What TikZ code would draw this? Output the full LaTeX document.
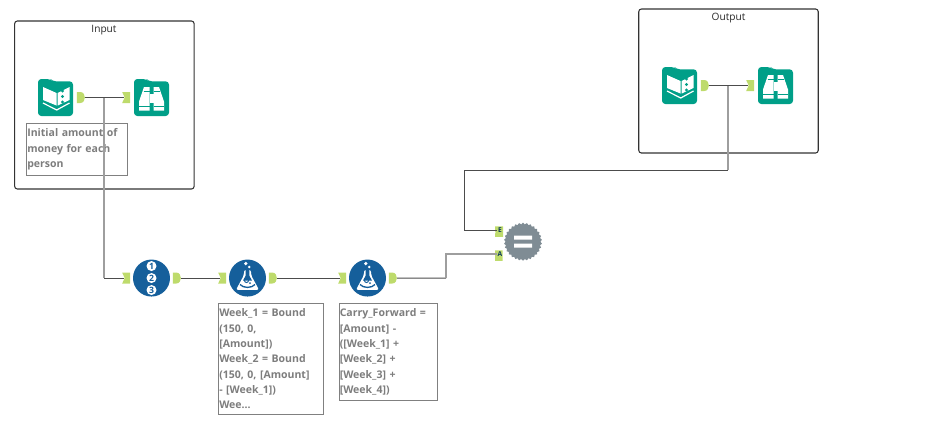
\documentclass[tikz,border=0pt]{standalone}
\usepackage{fontspec}
\setmainfont{Open Sans}
\usepackage{tikz}
\usetikzlibrary{shapes.geometric, positioning}

\definecolor{toolteal}{HTML}{009F88}
\definecolor{toolblue}{HTML}{155F9B}
\definecolor{toolgrey}{HTML}{7F8C94}
\definecolor{portgreen}{HTML}{BEDB6C}
\definecolor{notegrey}{HTML}{7D7D7D}

% icons are drawn in pixels around the centre of the node
\newcommand{\foldershape}{\fill [toolteal, rounded corners=2.5] (-17.5,18.5) -- (-17.5,-18.5) -- (-5,-18.5) -- (-3,-16.2) -- (17.5,-16.2) -- (17.5,18.5) -- cycle;}

\tikzstyle{container} = [rectangle, draw=black!80, rounded corners=2pt, line width=0.8pt, minimum width=134.6pt, inner sep=0pt]
\tikzstyle{title} = [text=black!85, font=\fontsize{7.6pt}{9pt}\selectfont, inner sep=0pt]
\tikzstyle{note} = [rectangle, draw=black!50, line width=0.7pt, anchor=north west, align=left, text=notegrey, inner xsep=0.6pt, inner ysep=3.9pt, font=\fontsize{7.9pt}{11.5pt}\selectfont\bfseries]
\tikzstyle{book} = [rectangle, minimum width=26.25pt, minimum height=27.75pt, inner sep=0pt, path picture={
    \begin{scope}[shift={(path picture bounding box.center)}]
    \foldershape
    \fill [white] (1,-4.5) -- (-12.5,-10.5) -- (-12.5,2.5) -- (1,8) -- cycle;
    \fill [white] (2.2,-4.5) -- (14,-10.5) -- (14,2.5) -- (2.2,8) -- cycle;
    \draw [white, line width=0.9pt] (-12.5,5.5) -- (1.2,12.5) -- (14,5.5);
    \fill [toolteal] (7,-6.5) circle (1.6) (7,-1) circle (1.6) (7,4.5) circle (1.6);
    \end{scope}}]
\tikzstyle{binoculars} = [rectangle, minimum width=26.25pt, minimum height=27.75pt, inner sep=0pt, path picture={
    \begin{scope}[shift={(path picture bounding box.center)}]
    \foldershape
    \fill [white] (-7.5,-10.5) -- (-2,-10.5) -- (-2,13) -- (-12.5,13) -- (-12.5,4) -- cycle;
    \fill [white] (7.5,-10.5) -- (2,-10.5) -- (2,13) -- (12.5,13) -- (12.5,4) -- cycle;
    \fill [white] (-2,-4) rectangle (2,5);
    \draw [toolteal, line width=0.5pt] (-12.5,9) -- (-2,9) (2,9) -- (12.5,9) (-8,-6) -- (-2,-6) (2,-6) -- (8,-6);
    \end{scope}}]
\tikzstyle{sample} = [circle, fill=toolblue, minimum size=27.75pt, inner sep=0pt]
\tikzstyle{number} = [circle, fill=white, text=toolblue, minimum size=7.5pt, inner sep=0pt, font=\fontsize{6.5pt}{7pt}\selectfont\bfseries]
\tikzstyle{formula} = [circle, fill=toolblue, minimum size=27.75pt, inner sep=0pt, path picture={
    \begin{scope}[shift={(path picture bounding box.center)}]
    \fill [white] (-1.7,-14.5) circle (1.8) (1.8,-11) circle (1.4);
    \fill [white, rounded corners=1.5] (-3.5,-8) -- (3.5,-8) -- (3.5,-3) -- (11.5,11.8) -- (-11.5,11.8) -- (-3.5,-3) -- cycle;
    \fill [toolblue] (-1.8,-8) -- (1.8,-8) -- (1.8,-2.5) -- (4.5,2.5) -- (-4.5,2.5) -- (-1.8,-2.5) -- cycle;
    \draw [toolblue, line width=0.7pt] (-1,2.5) circle (2);
    \fill [toolblue] (2.5,5.2) circle (1);
    \draw [toolblue, line width=1pt] (-7.5,6.5) .. controls (-4,10.3) and (4,10.3) .. (7.5,6.5);
    \end{scope}}]
\tikzstyle{union} = [star, star points=30, star point ratio=1.09, fill=toolgrey, minimum size=28.5pt, inner sep=0pt, path picture={
    \begin{scope}[shift={(path picture bounding box.center)}]
    \fill [white] (-9,-6) rectangle (9,-2) (-9,2) rectangle (9,6);
    \end{scope}}]
\tikzstyle{outport} = [rectangle, minimum width=6pt, minimum height=8.25pt, inner sep=0pt, path picture={
    \fill [portgreen, shift={(path picture bounding box.center)}] (-4,-5.5) -- (-.5,-5.5) .. controls (3,-5.5) and (4,-2) .. (4,0) .. controls (4,2) and (3,5.5) .. (-.5,5.5) -- (-4,5.5) -- cycle;}]
\tikzstyle{inport} = [rectangle, minimum width=6pt, minimum height=8.25pt, inner sep=0pt, path picture={
    \fill [portgreen, shift={(path picture bounding box.center)}] (-4,-5.5) -- (4,-5.5) -- (4,5.5) -- (-4,5.5) -- (-1.5,0) -- cycle;}]
\tikzstyle{joinport} = [rectangle, minimum width=7.5pt, minimum height=9pt, inner sep=0pt, text=toolblue!60!black, font=\fontsize{5pt}{5.5pt}\selectfont\bfseries, path picture={
    \fill [portgreen, shift={(path picture bounding box.center)}] (-5,-6) -- (5,-6) -- (5,6) -- (-5,6) -- (-2.5,0) -- cycle;}]
\tikzstyle{wire} = [black!70, line width=0.75pt]
\tikzstyle{faint} = [black!38, line width=1.1pt]
\tikzstyle{toport} = [shorten >=-1.8pt]

\begin{document}
\begin{tikzpicture}[x=0.75pt, y=-0.75pt, node distance=72pt]
    \useasboundingbox (0,0) rectangle (935,437);

    % Containers
    \node (input_box) [container, minimum height=126pt] at (104.4,105) {};
    \node (input_title) [title] at (104,30.5) {Input};
    \node (output_box) [container, minimum height=108pt] at (728.5,81) {};
    \node (output_title) [title] at (728.5,18.5) {Output};

    % Input tools
    \node (input) [book] at (55.5,97.5) {};
    \node (browse) [binoculars, right of=input] {};
    \node (input_out) [outport, right of=input, node distance=19pt] {};
    \node (browse_in) [inport, left of=browse, node distance=19pt] {};
    \node (input_note) [note, text width=74.2pt] at (26,123) {Initial amount of\\money for each\\person};

    % Output tools
    \node (output) [book] at (679.5,85.5) {};
    \node (view) [binoculars, right of=output] {};
    \node (output_out) [outport, right of=output, node distance=19pt] {};
    \node (view_in) [inport, left of=view, node distance=19pt] {};

    % Formula row
    \node (record) [sample, below of=browse, yshift=-63.4pt] {};
    \node (record2) [number] at (record) {2};
    \node (record1) [number, above of=record2, node distance=9pt] {1};
    \node (record3) [number, below of=record2, node distance=9pt] {3};
    \node (record_in) [inport, left of=record, node distance=19pt] {};
    \node (record_out) [outport, right of=record, node distance=19pt] {};

    \node (weeks) [formula, right of=record] {};
    \node (weeks_in) [inport, left of=weeks, node distance=19pt] {};
    \node (weeks_out) [outport, right of=weeks, node distance=19pt] {};
    \node (weeks_note) [note, text width=77.9pt] at (218,303) {Week\_1 = Bound\\(150, 0,\\{[Amount])}\\Week\_2 = Bound\\(150, 0, [Amount]\\- [Week\_1])\\Wee...};

    \node (carry) [formula, right of=weeks, xshift=18pt] {};
    \node (carry_in) [inport, left of=carry, node distance=19pt] {};
    \node (carry_out) [outport, right of=carry, node distance=19pt] {};
    \node (carry_note) [note, text width=73pt] at (338.5,303) {Carry\_Forward =\\{[Amount] -}\\([Week\_1] +\\{[Week\_2] +}\\{[Week\_3] +}\\{[Week\_4])}};

    % Union
    \node (join) [union] at (523,241.7) {};
    \node (join_e) [joinport, left of=join, node distance=17.25pt, yshift=8.75pt] {E};
    \node (join_a) [joinport, left of=join, node distance=17.25pt, yshift=-9.25pt] {A};

    % Wire corners
    \coordinate (input_branch) at (104,98);
    \coordinate (output_branch) at (728,86);
    \coordinate (carry_bend) at (446,278);
    \coordinate (view_bend) at (464,170);

    % ==== Wires
    \draw [wire, toport] (input_out) -- (browse_in);
    \draw [wire, toport] (output_out) -- (view_in);
    \draw [faint] (input_branch) -- (input_branch |- record_in);
    \draw [wire, toport] (input_branch |- record_in) -- (record_in);
    \draw [wire, toport] (record_out) -- (weeks_in);
    \draw [wire, toport] (weeks_out) -- (carry_in);
    \draw [wire] (carry_out) -- (carry_bend);
    \draw [faint, toport] (carry_bend) |- (join_a);
    \draw [faint] (output_branch) -- (output_branch |- view_bend);
    \draw [wire, toport] (output_branch |- view_bend) -- (view_bend) |- (join_e);

\end{tikzpicture}
\end{document}
